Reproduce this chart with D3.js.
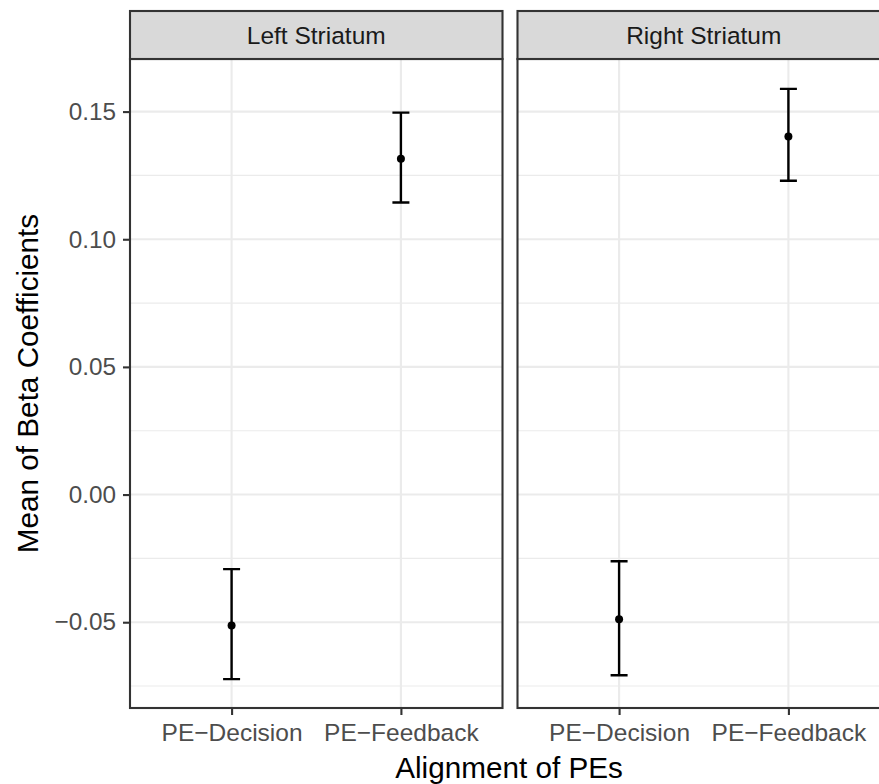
<!DOCTYPE html>
<html>
<head>
<meta charset="utf-8">
<script src="https://cdn.jsdelivr.net/npm/d3@7"></script>
<style>
  body { margin: 0; background: white; }
  svg { display: block; font-family: 'Liberation Sans', Arial, sans-serif; }
</style>
</head>
<body>
<div id="chart"></div>
<script>
const regions = ['Left Striatum', 'Right Striatum'];
const categories = ['PE\u2212Decision', 'PE\u2212Feedback'];

const meanLeft = [-0.0513, 0.1315];
const lowerLeft = [-0.0723, 0.1144];
const upperLeft = [-0.0292, 0.1496];

const meanRight = [-0.0488, 0.1402];
const lowerRight = [-0.0708, 0.1229];
const upperRight = [-0.0261, 0.1589];

const yTicks = [-0.05, 0, 0.05, 0.1, 0.15];
const yMinor = [-0.075, -0.025, 0.025, 0.075, 0.125];

const w = 879;
const h = 784;
const panelW = 372.5;
const panelLefts = [130, 517.5];
const stripTop = 11;
const panelTop = 59;
const panelBottom = 708;

const panels = [
  { region: regions[0], mean: meanLeft, lower: lowerLeft, upper: upperLeft },
  { region: regions[1], mean: meanRight, lower: lowerRight, upper: upperRight },
];

const yScale = d3
  .scaleLinear()
  .domain([-0.0836, 0.1706])
  .range([panelBottom, panelTop]);

const svg = d3
  .select('#chart')
  .append('svg')
  .attr('width', w)
  .attr('height', h);

panels.forEach((p, i) => {
  const x0 = panelLefts[i];
  const xScale = d3
    .scalePoint()
    .domain(categories)
    .range([x0, x0 + panelW])
    .padding(0.6);

  const g = svg.append('g');

  // minor grid
  g.selectAll('.minor')
    .data(yMinor)
    .enter()
    .append('line')
    .attr('x1', x0)
    .attr('x2', x0 + panelW)
    .attr('y1', (d) => yScale(d))
    .attr('y2', (d) => yScale(d))
    .attr('stroke', '#EBEBEB')
    .attr('stroke-width', 1.1);

  // major grid
  g.selectAll('.majorY')
    .data(yTicks)
    .enter()
    .append('line')
    .attr('x1', x0)
    .attr('x2', x0 + panelW)
    .attr('y1', (d) => yScale(d))
    .attr('y2', (d) => yScale(d))
    .attr('stroke', '#EBEBEB')
    .attr('stroke-width', 2.1);

  g.selectAll('.majorX')
    .data(categories)
    .enter()
    .append('line')
    .attr('x1', (d) => xScale(d))
    .attr('x2', (d) => xScale(d))
    .attr('y1', panelTop)
    .attr('y2', panelBottom)
    .attr('stroke', '#EBEBEB')
    .attr('stroke-width', 2.1);

  // error bars
  const rows = categories.map((c, j) => ({
    cat: c,
    mean: p.mean[j],
    lower: p.lower[j],
    upper: p.upper[j],
  }));

  g.selectAll('.err')
    .data(rows)
    .enter()
    .append('path')
    .attr('fill', 'none')
    .attr('stroke', 'black')
    .attr('stroke-width', 2.4)
    .attr('d', (d) => {
      const x = xScale(d.cat);
      const yl = yScale(d.lower);
      const yu = yScale(d.upper);
      return (
        'M' + (x - 8.5) + ',' + yu + 'H' + (x + 8.5) +
        'M' + x + ',' + yu + 'V' + yl +
        'M' + (x - 8.5) + ',' + yl + 'H' + (x + 8.5)
      );
    });

  g.selectAll('.pt')
    .data(rows)
    .enter()
    .append('circle')
    .attr('cx', (d) => xScale(d.cat))
    .attr('cy', (d) => yScale(d.mean))
    .attr('r', 4)
    .attr('fill', 'black');

  // panel border
  g.append('rect')
    .attr('x', x0)
    .attr('y', panelTop)
    .attr('width', panelW)
    .attr('height', panelBottom - panelTop)
    .attr('fill', 'none')
    .attr('stroke', '#333333')
    .attr('stroke-width', 2.1);

  // strip
  g.append('rect')
    .attr('x', x0)
    .attr('y', stripTop)
    .attr('width', panelW)
    .attr('height', panelTop - stripTop)
    .attr('fill', '#D9D9D9')
    .attr('stroke', '#333333')
    .attr('stroke-width', 2.1);

  g.append('text')
    .attr('x', x0 + panelW / 2)
    .attr('y', 44)
    .attr('text-anchor', 'middle')
    .attr('fill', '#1A1A1A')
    .attr('font-size', 24.5)
    .text(p.region);

  // x axis
  const xAxis = d3.axisBottom(xScale).tickSize(7).tickPadding(5);
  const gx = g
    .append('g')
    .attr('transform', 'translate(0,' + panelBottom + ')')
    .call(xAxis);
  gx.select('.domain').remove();
  gx.selectAll('.tick line').attr('stroke', '#333333').attr('stroke-width', 2.1);
  gx.selectAll('.tick text')
    .attr('fill', '#4D4D4D')
    .attr('font-size', 24.5)
    .attr('font-family', null)
    .attr('dy', null)
    .attr('y', 33);
});

// y axis on left panel
const yAxis = d3
  .axisLeft(yScale)
  .tickValues(yTicks)
  .tickSize(7)
  .tickPadding(7)
  .tickFormat((d) => d3.format('.2f')(d).replace('-', '\u2212'));

const gy = svg
  .append('g')
  .attr('transform', 'translate(' + panelLefts[0] + ',0)')
  .call(yAxis);
gy.select('.domain').remove();
gy.selectAll('.tick line').attr('stroke', '#333333').attr('stroke-width', 2.1);
gy.selectAll('.tick text')
  .attr('fill', '#4D4D4D')
  .attr('font-size', 24.3)
  .attr('font-family', null);

// axis titles
svg
  .append('text')
  .attr('x', 509)
  .attr('y', 778)
  .attr('text-anchor', 'middle')
  .attr('font-size', 29.7)
  .attr('fill', 'black')
  .text('Alignment of PEs');

svg
  .append('text')
  .attr('transform', 'translate(38,' + (panelTop + panelBottom) / 2 + ') rotate(-90)')
  .attr('text-anchor', 'middle')
  .attr('font-size', 29.7)
  .attr('fill', 'black')
  .text('Mean of Beta Coefficients');
</script>
</body>
</html>
